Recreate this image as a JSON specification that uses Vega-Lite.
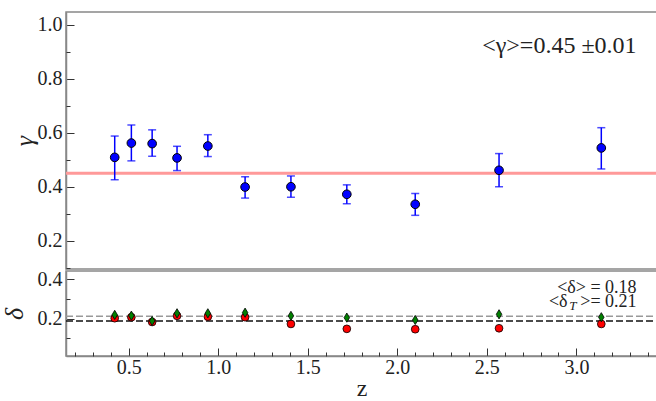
{
  "$schema": "https://vega.github.io/schema/vega-lite/v6.json",
  "padding": {"top": 11, "left": 0, "right": 0, "bottom": 0},
  "background": "white",
  "spacing": -2,
  "config": {
    "font": "Liberation Serif",
    "view": {"stroke": "#888888", "strokeWidth": 1.5},
    "axis": {
      "labelFont": "Liberation Serif",
      "titleFont": "Liberation Serif",
      "labelFontSize": 20,
      "labelColor": "#222222",
      "titleColor": "#222222",
      "titleFontWeight": "normal",
      "domainColor": "#888888",
      "domainWidth": 1.5,
      "tickColor": "#333333",
      "tickWidth": 1,
      "tickSize": -8,
      "labelOverlap": false,
      "labelBound": false,
      "labelFlush": false,
      "grid": false
    }
  },
  "datasets": {
    "gamma": [
      {"z": 0.422, "gamma": 0.509, "lo": 0.426, "hi": 0.588},
      {"z": 0.515, "gamma": 0.562, "lo": 0.496, "hi": 0.629},
      {"z": 0.631, "gamma": 0.560, "lo": 0.513, "hi": 0.611},
      {"z": 0.770, "gamma": 0.507, "lo": 0.460, "hi": 0.550},
      {"z": 0.942, "gamma": 0.551, "lo": 0.512, "hi": 0.593},
      {"z": 1.150, "gamma": 0.399, "lo": 0.358, "hi": 0.437},
      {"z": 1.406, "gamma": 0.400, "lo": 0.361, "hi": 0.440},
      {"z": 1.718, "gamma": 0.372, "lo": 0.337, "hi": 0.407},
      {"z": 2.100, "gamma": 0.335, "lo": 0.294, "hi": 0.375},
      {"z": 2.568, "gamma": 0.461, "lo": 0.400, "hi": 0.523},
      {"z": 3.139, "gamma": 0.544, "lo": 0.466, "hi": 0.619}
    ],
    "delta": [
      {"z": 0.422, "delta": 0.202, "deltaT": 0.219},
      {"z": 0.515, "delta": 0.207, "deltaT": 0.215},
      {"z": 0.631, "delta": 0.183, "deltaT": 0.188},
      {"z": 0.770, "delta": 0.214, "deltaT": 0.227},
      {"z": 0.942, "delta": 0.210, "deltaT": 0.227},
      {"z": 1.150, "delta": 0.207, "deltaT": 0.230},
      {"z": 1.406, "delta": 0.173, "deltaT": 0.214},
      {"z": 1.718, "delta": 0.148, "deltaT": 0.205},
      {"z": 2.100, "delta": 0.146, "deltaT": 0.193},
      {"z": 2.568, "delta": 0.151, "deltaT": 0.222},
      {"z": 3.139, "delta": 0.173, "deltaT": 0.207}
    ]
  },
  "vconcat": [
    {
      "width": 591,
      "height": 257,
      "resolve": {"axis": {"y": "independent"}},
      "layer": [
        {
          "data": {"values": [{"k": 1}]},
          "mark": {"type": "rule", "color": "#ff9999", "strokeWidth": 3},
          "encoding": {"x": {"value": 0}, "x2": {"value": 591}, "y": {"datum": 0.45, "type": "quantitative", "axis": null}}
        },
        {
          "data": {"name": "gamma"},
          "mark": {"type": "rule", "color": "#0000ff", "strokeWidth": 1.5},
          "encoding": {
            "x": {"field": "z", "type": "quantitative", "scale": {"domain": [0.15, 3.45], "nice": false, "zero": false}, "axis": null},
            "y": {"field": "lo", "type": "quantitative", "scale": {"domain": [0.095, 1.048], "nice": false, "zero": false},
              "axis": {
                "orient": "left",
                "title": "γ", "titleFontSize": 26, "titlePadding": 0, "titleFontStyle": "italic",
                "values": [0.2, 0.4, 0.6, 0.8, 1.0],
                "format": ".1f",
                "labelPadding": 12
              }
            },
            "y2": {"field": "hi"}
          }
        },
        {
          "data": {"name": "gamma"},
          "mark": {"type": "tick", "orient": "horizontal", "color": "#0000ff", "size": 8, "thickness": 1.5},
          "encoding": {"x": {"field": "z", "type": "quantitative", "axis": null}, "y": {"field": "lo", "type": "quantitative", "axis": null}}
        },
        {
          "data": {"name": "gamma"},
          "mark": {"type": "tick", "orient": "horizontal", "color": "#0000ff", "size": 8, "thickness": 1.5},
          "encoding": {"x": {"field": "z", "type": "quantitative", "axis": null}, "y": {"field": "hi", "type": "quantitative", "axis": null}}
        },
        {
          "data": {"name": "gamma"},
          "mark": {"type": "point", "shape": "circle", "filled": true, "fill": "#0000ff", "stroke": "black", "strokeWidth": 1, "size": 75, "opacity": 1},
          "encoding": {
            "x": {"field": "z", "type": "quantitative", "axis": null},
            "y": {"field": "gamma", "type": "quantitative",
              "axis": {"orient": "left", "title": null, "labels": false, "domain": false, "tickSize": -4, "values": [0.1, 0.3, 0.5, 0.7, 0.9]}
            }
          }
        },
        {
          "data": {"values": [{"k": 1}]},
          "mark": {"type": "text", "align": "right", "baseline": "middle", "fontSize": 24, "color": "#222222", "font": "Liberation Serif"},
          "encoding": {"x": {"datum": 3.336, "type": "quantitative", "axis": null}, "y": {"datum": 0.923, "type": "quantitative", "axis": null}, "text": {"value": "<γ>=0.45 ±0.01"}}
        }
      ]
    },
    {
      "width": 591,
      "height": 85,
      "resolve": {"axis": {"x": "independent", "y": "independent"}},
      "layer": [
        {
          "data": {"values": [{"k": 1}]},
          "mark": {"type": "rule", "color": "#999999", "strokeWidth": 1.5, "strokeDash": [7, 3]},
          "encoding": {"x": {"value": 0}, "x2": {"value": 591}, "y": {"datum": 0.212, "type": "quantitative", "axis": null}}
        },
        {
          "data": {"values": [{"k": 1}]},
          "mark": {"type": "rule", "color": "#111111", "strokeWidth": 1.5, "strokeDash": [7, 3]},
          "encoding": {"x": {"value": 0}, "x2": {"value": 591}, "y": {"datum": 0.188, "type": "quantitative", "axis": null}}
        },
        {
          "data": {"name": "delta"},
          "mark": {"type": "point", "shape": "circle", "filled": true, "fill": "#ff0000", "stroke": "black", "strokeWidth": 0.8, "size": 60, "opacity": 1},
          "encoding": {
            "x": {"field": "z", "type": "quantitative", "scale": {"domain": [0.15, 3.45], "nice": false, "zero": false},
              "axis": {
                "orient": "bottom",
                "title": "z", "titleFontSize": 24, "titlePadding": -1,
                "values": [0.5, 1.0, 1.5, 2.0, 2.5, 3.0],
                "format": ".1f",
                "labelPadding": 9
              }
            },
            "y": {"field": "delta", "type": "quantitative", "scale": {"domain": [0.01, 0.442], "nice": false, "zero": false},
              "axis": {
                "orient": "left",
                "title": "δ", "titleFontSize": 26, "titlePadding": 10, "titleFontStyle": "italic",
                "values": [0.2, 0.4],
                "format": ".1f",
                "labelPadding": 12
              }
            }
          }
        },
        {
          "data": {"name": "delta"},
          "mark": {"type": "point", "shape": "M0,-1L0.6,0L0,1L-0.6,0Z", "filled": true, "fill": "#008000", "stroke": "black", "strokeWidth": 0.8, "size": 85, "opacity": 1},
          "encoding": {
            "x": {"field": "z", "type": "quantitative",
              "axis": {"orient": "bottom", "title": null, "labels": false, "domain": false, "tickSize": -4,
                "values": [0.2, 0.3, 0.4, 0.6, 0.7, 0.8, 0.9, 1.1, 1.2, 1.3, 1.4, 1.6, 1.7, 1.8, 1.9, 2.1, 2.2, 2.3, 2.4, 2.6, 2.7, 2.8, 2.9, 3.1, 3.2, 3.3, 3.4]}
            },
            "y": {"field": "deltaT", "type": "quantitative",
              "axis": {"orient": "left", "title": null, "labels": false, "domain": false, "tickSize": -4, "values": [0.1, 0.3]}
            }
          }
        },
        {
          "data": {"values": [{"k": 1}]},
          "mark": {"type": "text", "align": "right", "baseline": "middle", "fontSize": 18, "color": "#222222", "font": "Liberation Serif"},
          "encoding": {"x": {"datum": 3.336, "type": "quantitative", "axis": null}, "y": {"datum": 0.356, "type": "quantitative", "axis": null}, "text": {"value": "<δ> = 0.18"}}
        },
        {
          "data": {"values": [{"k": 1}]},
          "mark": {"type": "text", "align": "right", "baseline": "middle", "fontSize": 18, "color": "#222222", "font": "Liberation Serif"},
          "encoding": {"x": {"datum": 3.336, "type": "quantitative", "axis": null}, "y": {"datum": 0.282, "type": "quantitative", "axis": null}, "text": {"value": ">= 0.21"}}
        },
        {
          "data": {"values": [{"k": 1}]},
          "mark": {"type": "text", "align": "right", "baseline": "middle", "fontSize": 13, "fontStyle": "italic", "dx": -60, "dy": 4, "color": "#222222", "font": "Liberation Serif"},
          "encoding": {"x": {"datum": 3.336, "type": "quantitative", "axis": null}, "y": {"datum": 0.282, "type": "quantitative", "axis": null}, "text": {"value": "T"}}
        },
        {
          "data": {"values": [{"k": 1}]},
          "mark": {"type": "text", "align": "right", "baseline": "middle", "fontSize": 18, "dx": -69, "color": "#222222", "font": "Liberation Serif"},
          "encoding": {"x": {"datum": 3.336, "type": "quantitative", "axis": null}, "y": {"datum": 0.282, "type": "quantitative", "axis": null}, "text": {"value": "<δ"}}
        }
      ]
    }
  ]
}
